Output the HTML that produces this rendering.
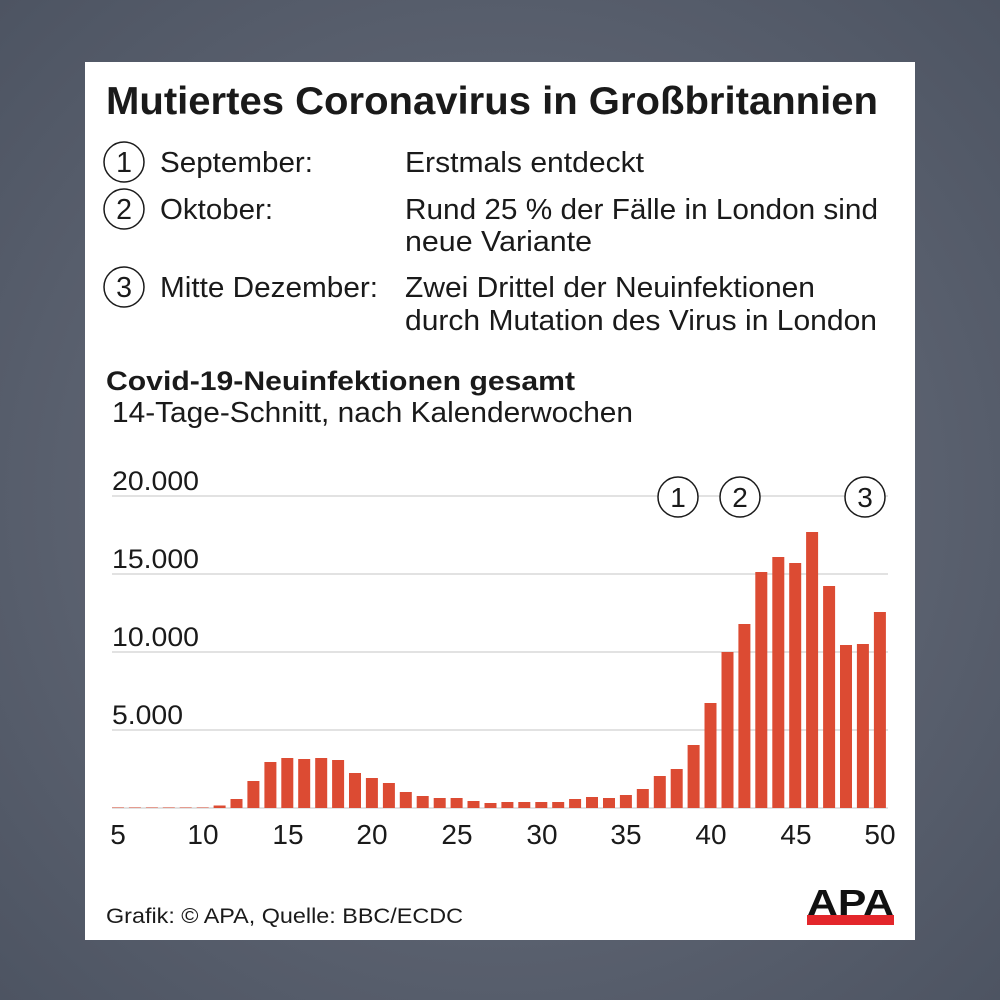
<!DOCTYPE html>
<html><head><meta charset="utf-8"><style>
html,body{margin:0;padding:0;width:1000px;height:1000px;overflow:hidden;background:radial-gradient(circle at 50% 50%,#6d7381 0%,#4d5462 100%);}
svg{position:absolute;left:0;top:0}
text{font-family:"Liberation Sans",sans-serif;fill:#1a1a1a}
</style></head><body>
<svg width="1000" height="1000" viewBox="0 0 1000 1000">
<rect x="85" y="62" width="830" height="878" fill="#fff"/>
<text x="106" y="114" font-size="39" font-weight="bold" textLength="772" lengthAdjust="spacingAndGlyphs">Mutiertes Coronavirus in Großbritannien</text>
<g fill="none" stroke="#1a1a1a" stroke-width="1.5">
<circle cx="124" cy="162" r="20"/><circle cx="124" cy="209" r="20"/><circle cx="124" cy="287" r="20"/>
</g>
<g font-size="28.5">
<text x="124" y="172" text-anchor="middle">1</text>
<text x="124" y="219" text-anchor="middle">2</text>
<text x="124" y="297" text-anchor="middle">3</text>
<text x="160" y="172" textLength="153" lengthAdjust="spacingAndGlyphs">September:</text>
<text x="160" y="219" textLength="113" lengthAdjust="spacingAndGlyphs">Oktober:</text>
<text x="160" y="297" textLength="218" lengthAdjust="spacingAndGlyphs">Mitte Dezember:</text>
<text x="405" y="172" textLength="239" lengthAdjust="spacingAndGlyphs">Erstmals entdeckt</text>
<text x="405" y="219" textLength="473" lengthAdjust="spacingAndGlyphs">Rund 25 % der Fälle in London sind</text>
<text x="405" y="251" textLength="187" lengthAdjust="spacingAndGlyphs">neue Variante</text>
<text x="405" y="297" textLength="410" lengthAdjust="spacingAndGlyphs">Zwei Drittel der Neuinfektionen</text>
<text x="405" y="330" textLength="472" lengthAdjust="spacingAndGlyphs">durch Mutation des Virus in London</text>
<text x="112" y="422" textLength="521" lengthAdjust="spacingAndGlyphs">14-Tage-Schnitt, nach Kalenderwochen</text>
</g>
<text x="106" y="390" font-size="26.5" font-weight="bold" textLength="469" lengthAdjust="spacingAndGlyphs">Covid-19-Neuinfektionen gesamt</text>
<g stroke="#d8d8d8" stroke-width="1.5">
<line x1="112" y1="496" x2="888" y2="496"/>
<line x1="112" y1="574" x2="888" y2="574"/>
<line x1="112" y1="652" x2="888" y2="652"/>
<line x1="112" y1="730" x2="888" y2="730"/>
<line x1="112" y1="808" x2="888" y2="808"/>
</g>
<g font-size="27">
<text x="112" y="490" textLength="87" lengthAdjust="spacingAndGlyphs">20.000</text>
<text x="112" y="568" textLength="87" lengthAdjust="spacingAndGlyphs">15.000</text>
<text x="112" y="646" textLength="87" lengthAdjust="spacingAndGlyphs">10.000</text>
<text x="112" y="724" textLength="71" lengthAdjust="spacingAndGlyphs">5.000</text>
</g>
<g fill="#fff" stroke="#1a1a1a" stroke-width="1.5">
<circle cx="678" cy="497" r="20"/><circle cx="740" cy="497" r="20"/><circle cx="865" cy="497" r="20"/>
</g>
<g font-size="28" text-anchor="middle">
<text x="678" y="507">1</text><text x="740" y="507">2</text><text x="865" y="507">3</text>
</g>
<g fill="#dc4b33" id="bars"></g>
<g font-size="28" text-anchor="middle">
<text x="118" y="844">5</text><text x="203" y="844">10</text><text x="288" y="844">15</text><text x="372" y="844">20</text><text x="457" y="844">25</text><text x="542" y="844">30</text><text x="626" y="844">35</text><text x="711" y="844">40</text><text x="796" y="844">45</text><text x="880" y="844">50</text>
</g>
<text x="106" y="923" font-size="21" textLength="357" lengthAdjust="spacingAndGlyphs">Grafik: © APA, Quelle: BBC/ECDC</text>
<text x="807" y="915" font-size="36" font-weight="bold" textLength="87" lengthAdjust="spacingAndGlyphs" style="fill:#111">APA</text>
<rect x="807" y="915" width="87" height="10" fill="#e3262b"/>
</svg>
<script>
var tops={5:807.5,6:807.5,7:807.5,8:807.5,9:807.5,10:807.5,11:805.5,12:799,13:781,14:762,15:758,16:759,17:758,18:760,19:773,20:778,21:783,22:792,23:796,24:798,25:798,26:801,27:803,28:802,29:802,30:802,31:802,32:799,33:797,34:798,35:795,36:789,37:776,38:769,39:745,40:703,41:652,42:624,43:572,44:557,45:563,46:532,47:586,48:645,49:644,50:612};
var g=document.getElementById('bars'),s='';
for(var w=5;w<=50;w++){var cx=118+(w-5)*16.93;var t=tops[w];s+='<rect x="'+(cx-6).toFixed(1)+'" y="'+t+'" width="12" height="'+(808-t)+'"/>';}
g.innerHTML=s;
</script>
</body></html>
